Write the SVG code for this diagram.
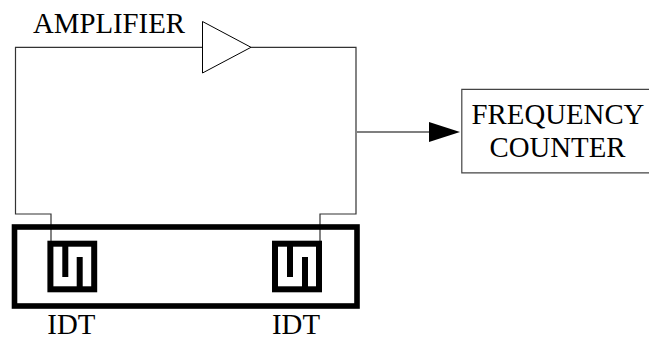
<svg xmlns="http://www.w3.org/2000/svg" width="649" height="339" viewBox="0 0 649 339">
<style>
text{font-family:"Liberation Serif","Times New Roman",serif;font-size:28.8px;fill:#000}
.w{fill:none;stroke:#333;stroke-width:1.2}
.t{fill:none;stroke:#000;stroke-width:6}
.f{fill:none;stroke:#000;stroke-width:6}
</style>
<rect width="649" height="339" fill="#fff"/>
<g id="connectors">
<path class="w" d="M202.5 47.3H15.5V214H51V243"/>
<path class="w" d="M251 47.3H356V214H320V243"/>
<path d="M357 132H431" fill="none" stroke="#000" stroke-width="1.2"/>
<polygon points="429,122 460,132 429,142" fill="#000"/>
</g>
<g id="amplifier">
<polygon points="202.5,21.5 251,47.3 202.5,73" fill="#fff" stroke="#000" stroke-width="1"/>
<text x="33" y="32.5">AMPLIFIER</text>
</g>
<g id="frequency-counter">
<path d="M649 89.3H461.8V172.8H649" fill="#fff" stroke="#444" stroke-width="1.2"/>
<text x="558" y="124.3" text-anchor="middle">FREQUENCY</text>
<text x="557.5" y="157.3" text-anchor="middle">COUNTER</text>
</g>
<g id="substrate">
<rect x="14.5" y="227" width="342.5" height="79" fill="none" stroke="#000" stroke-width="5.6"/>
</g>
<g id="idt-left">
<rect class="t" x="50.4" y="243.7" width="43.8" height="45.6"/>
<path class="f" d="M65.3 246V277M79.7 288V257"/>
<text x="71.3" y="334.3" text-anchor="middle">IDT</text>
</g>
<g id="idt-right">
<rect class="t" x="275" y="243.7" width="44" height="45.6"/>
<path class="f" d="M290 246V277M305 288V257"/>
<text x="296" y="334.3" text-anchor="middle">IDT</text>
</g>
</svg>
